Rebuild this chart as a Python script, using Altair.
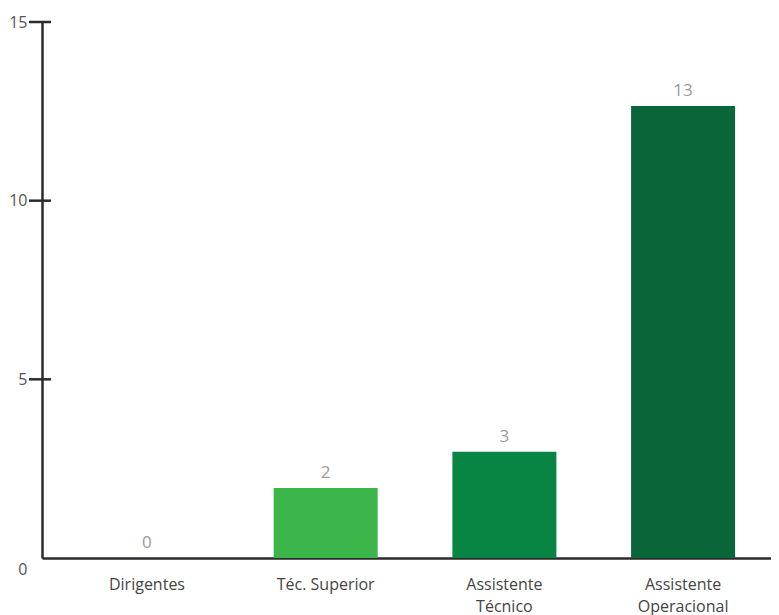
import altair as alt
import pandas as pd

categories = ["Dirigentes", "Téc. Superior", "Assistente Técnico", "Assistente Operacional"]
values = [0, 1.96, 2.97, 12.65]
value_labels = ["0", "2", "3", "13"]
colors = ["#3cb54a", "#3cb54a", "#088543", "#0a6638"]
y_ticks = [0, 5, 10, 15]
tick_marks = [5, 10, 15]

df = pd.DataFrame({"cat": categories, "val": values, "lab": value_labels, "col": colors})
ticks_df = pd.DataFrame({"t": tick_marks})

font = "Open Sans"

x_enc = alt.X(
    "cat:N",
    sort=categories,
    scale=alt.Scale(paddingInner=0.418, paddingOuter=0.2487, align=0.596),
    axis=alt.Axis(
        title=None,
        labelAngle=0,
        labelFont=font,
        labelFontSize=16,
        labelColor="#444444",
        labelPadding=18,
        labelLineHeight=22,
        labelExpr="indexof(datum.label, 'Assistente') == 0 ? split(datum.label, ' ') : datum.label",
        ticks=False,
        domainColor="#2b2b2b",
        domainWidth=2.5,
    ),
)

y_scale = alt.Scale(domain=[0, 15], nice=False)

bars = alt.Chart(df).mark_bar().encode(
    x=x_enc,
    y=alt.Y(
        "val:Q",
        scale=y_scale,
        axis=alt.Axis(
            title=None,
            values=y_ticks,
            grid=False,
            ticks=False,
            labelFont=font,
            labelFontSize=16,
            labelColor="#555555",
            labelPadding=15,
            labelOffset={"condition": {"test": "datum.value == 0", "value": 11}, "value": 0},
            domainColor="#2b2b2b",
            domainWidth=2.5,
        ),
    ),
    color=alt.Color("col:N", scale=None),
)

text = alt.Chart(df).mark_text(
    baseline="bottom", dy=-6, font=font, fontSize=17, color="#9a9a9a"
).encode(
    x=alt.X("cat:N", sort=categories),
    y=alt.Y("val:Q", scale=y_scale),
    text="lab:N",
)

tick_rules = alt.Chart(ticks_df).mark_rule(color="#2b2b2b", strokeWidth=2.5).encode(
    y=alt.Y("t:Q", scale=y_scale),
    x=alt.value(-13),
    x2=alt.value(9),
)

chart = alt.layer(bars, text, tick_rules).properties(
    width=729,
    height=536,
    padding={"left": 34, "top": 14, "right": 0, "bottom": 57},
    autosize=alt.AutoSizeParams(type="none"),
).configure_view(stroke=None)

chart.save("out.html", embed_options={"renderer": "svg", "actions": False})
